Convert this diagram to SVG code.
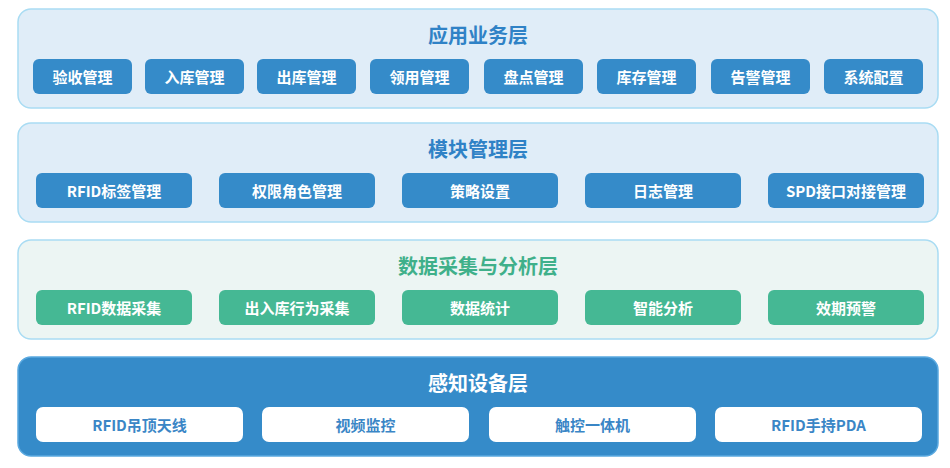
<svg xmlns="http://www.w3.org/2000/svg" width="950" height="468" viewBox="0 0 950 468">
<style>
text{font-family:"Noto Sans CJK SC","Noto Sans",sans-serif;font-weight:bold;text-anchor:middle;dominant-baseline:central}
.lb{fill:#e0edf8;stroke:#a9dcf3;stroke-width:1.5}
.lg{fill:#ecf5f3;stroke:#a9dcf3;stroke-width:1.5}
.ld{fill:#358bc9;stroke:#5aa9e0;stroke-width:1.5}
.bb{fill:#358bc9}
.bg{fill:#45b894}
.bw{fill:#fff}
.t{font-size:20px;fill:#2f82c6}
.tg{font-size:20px;fill:#3fb08a}
.tw{font-size:20px;fill:#fff}
.s{font-size:15px;fill:#fff}
.sb{font-size:15px;fill:#3a86c6}
</style>
<g id="layer1">
<rect class="lb" x="18" y="9" width="920" height="99" rx="13"/>
<text class="t" x="478" y="34">应用业务层</text>
<g id="n1"><rect class="bb" x="33" y="59" width="99" height="35" rx="6"/><text class="s" x="82.5" y="76.5">验收管理</text></g>
<g id="n2"><rect class="bb" x="145" y="59" width="99" height="35" rx="6"/><text class="s" x="194.5" y="76.5">入库管理</text></g>
<g id="n3"><rect class="bb" x="257" y="59" width="99" height="35" rx="6"/><text class="s" x="306.5" y="76.5">出库管理</text></g>
<g id="n4"><rect class="bb" x="370" y="59" width="99" height="35" rx="6"/><text class="s" x="419.5" y="76.5">领用管理</text></g>
<g id="n5"><rect class="bb" x="484" y="59" width="99" height="35" rx="6"/><text class="s" x="533.5" y="76.5">盘点管理</text></g>
<g id="n6"><rect class="bb" x="597" y="59" width="99" height="35" rx="6"/><text class="s" x="646.5" y="76.5">库存管理</text></g>
<g id="n7"><rect class="bb" x="711" y="59" width="99" height="35" rx="6"/><text class="s" x="760.5" y="76.5">告警管理</text></g>
<g id="n8"><rect class="bb" x="824" y="59" width="99" height="35" rx="6"/><text class="s" x="873.5" y="76.5">系统配置</text></g>
</g>
<g id="layer2">
<rect class="lb" x="18" y="123" width="920" height="99" rx="13"/>
<text class="t" x="478" y="148">模块管理层</text>
<g id="m1"><rect class="bb" x="36" y="173" width="156" height="35" rx="6"/><text class="s" x="114" y="190.5">RFID标签管理</text></g>
<g id="m2"><rect class="bb" x="219" y="173" width="156" height="35" rx="6"/><text class="s" x="297" y="190.5">权限角色管理</text></g>
<g id="m3"><rect class="bb" x="402" y="173" width="156" height="35" rx="6"/><text class="s" x="480" y="190.5">策略设置</text></g>
<g id="m4"><rect class="bb" x="585" y="173" width="156" height="35" rx="6"/><text class="s" x="663" y="190.5">日志管理</text></g>
<g id="m5"><rect class="bb" x="768" y="173" width="156" height="35" rx="6"/><text class="s" x="846" y="190.5">SPD接口对接管理</text></g>
</g>
<g id="layer3">
<rect class="lg" x="18" y="240" width="920" height="99" rx="13"/>
<text class="tg" x="478" y="265">数据采集与分析层</text>
<g id="d1"><rect class="bg" x="36" y="290" width="156" height="35" rx="6"/><text class="s" x="114" y="307.5">RFID数据采集</text></g>
<g id="d2"><rect class="bg" x="219" y="290" width="156" height="35" rx="6"/><text class="s" x="297" y="307.5">出入库行为采集</text></g>
<g id="d3"><rect class="bg" x="402" y="290" width="156" height="35" rx="6"/><text class="s" x="480" y="307.5">数据统计</text></g>
<g id="d4"><rect class="bg" x="585" y="290" width="156" height="35" rx="6"/><text class="s" x="663" y="307.5">智能分析</text></g>
<g id="d5"><rect class="bg" x="768" y="290" width="156" height="35" rx="6"/><text class="s" x="846" y="307.5">效期预警</text></g>
</g>
<g id="layer4">
<rect class="ld" x="18" y="357" width="920" height="99" rx="13"/>
<text class="tw" x="478" y="382">感知设备层</text>
<g id="p1"><rect class="bw" x="36" y="407" width="207" height="35" rx="7"/><text class="sb" x="139.5" y="424.5">RFID吊顶天线</text></g>
<g id="p2"><rect class="bw" x="262" y="407" width="207" height="35" rx="7"/><text class="sb" x="365.5" y="424.5">视频监控</text></g>
<g id="p3"><rect class="bw" x="489" y="407" width="207" height="35" rx="7"/><text class="sb" x="592.5" y="424.5">触控一体机</text></g>
<g id="p4"><rect class="bw" x="715" y="407" width="207" height="35" rx="7"/><text class="sb" x="818.5" y="424.5">RFID手持PDA</text></g>
</g>
<g id="connectors"/>
</svg>
